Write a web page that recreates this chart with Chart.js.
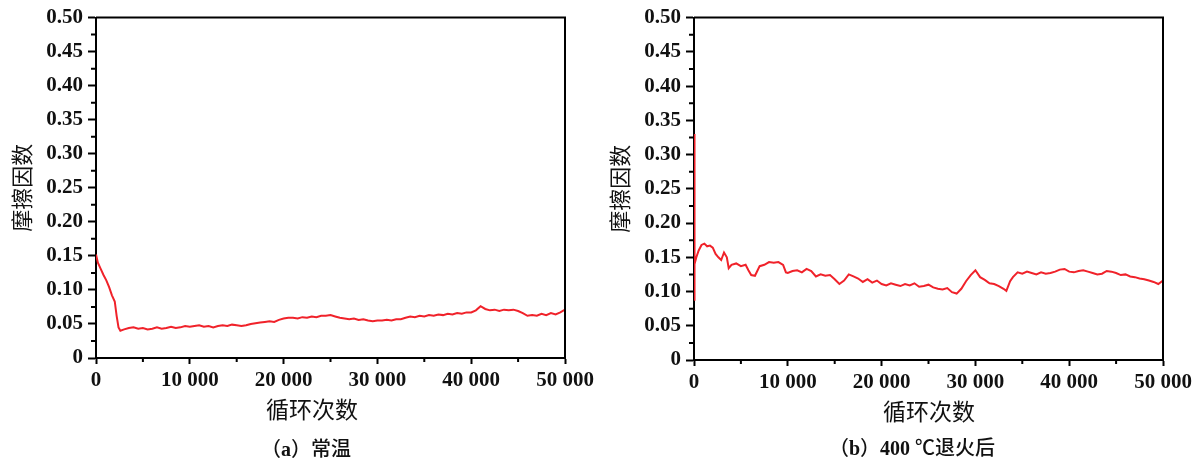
<!DOCTYPE html>
<html>
<head>
<meta charset="utf-8">
<script src="https://cdn.jsdelivr.net/npm/chart.js@4.4.1/dist/chart.umd.min.js"></script>
<style>
  body { margin: 0; background: #fff; }
  #wrap { position: relative; width: 1197px; height: 462px; overflow: hidden; }
  canvas { position: absolute; top: 0; }
  .lbl { position: absolute; white-space: nowrap; transform: translate(-50%, -50%); color: #111; }
  .xt { font: 23px "Noto Sans CJK SC"; }
  .cap { font: bold 20px "Liberation Serif", "Noto Sans CJK SC"; }
  .cap span { font-weight: 500; font-family: "Noto Sans CJK SC"; }
</style>
</head>
<body>
<div id="wrap">
  <canvas id="chartA" width="598" height="462" style="left:0"></canvas>
  <canvas id="chartB" width="599" height="462" style="left:598px"></canvas>
  <div class="lbl xt" style="left:312px; top:408px">循环次数</div>
  <div class="lbl xt" style="left:929px; top:410px">循环次数</div>
  <div class="lbl cap" style="left:306px; top:447px"><span>（</span>a<span>）常温</span></div>
  <div class="lbl cap" style="left:912px; top:446px"><span>（</span>b<span>）</span>400 <span>℃退火后</span></div>
</div>
<script>
// -------------------------
// Data
// -------------------------
const cyclesA = [0, 200, 500, 800, 1100, 1400, 1700, 2000, 2200, 2400, 2600, 3000, 3500,
  4000, 4500, 5000, 5500, 6000, 6500, 7000, 7500, 8000, 8500, 9000, 9500,
  10000, 10500, 11000, 11500, 12000, 12500, 13000, 13500, 14000, 14500,
  15000, 15500, 16000, 16500, 17000, 17500, 18000, 18500, 19000, 19500,
  20000, 20500, 21000, 21500, 22000, 22500, 23000, 23500, 24000, 24500,
  25000, 25500, 26000, 26500, 27000, 27500, 28000, 28500, 29000, 29500,
  30000, 30500, 31000, 31500, 32000, 32500, 33000, 33500, 34000, 34500,
  35000, 35500, 36000, 36500, 37000, 37500, 38000, 38500, 39000, 39500,
  40000, 40500, 41000, 41500, 42000, 42500, 43000, 43500, 44000, 44500,
  45000, 45500, 46000, 46500, 47000, 47500, 48000, 48500, 49000, 49500, 50000];
const frictionA = [0.152, 0.140, 0.131, 0.122, 0.114, 0.104, 0.092, 0.083, 0.062, 0.045, 0.040, 0.042, 0.044,
  0.045, 0.043, 0.044, 0.042, 0.043, 0.045, 0.043, 0.044, 0.046, 0.044, 0.045, 0.047,
  0.046, 0.047, 0.048, 0.046, 0.047, 0.045, 0.047, 0.048, 0.047, 0.049,
  0.048, 0.047, 0.048, 0.050, 0.051, 0.052, 0.053, 0.054, 0.053, 0.056,
  0.058, 0.059, 0.059, 0.058, 0.060, 0.059, 0.061, 0.060, 0.062, 0.062,
  0.063, 0.061, 0.059, 0.058, 0.057, 0.058, 0.056, 0.057, 0.055, 0.054,
  0.055, 0.055, 0.056, 0.055, 0.057, 0.057, 0.059, 0.061, 0.060, 0.062,
  0.061, 0.063, 0.062, 0.064, 0.063, 0.065, 0.064, 0.066, 0.065, 0.067,
  0.067, 0.070, 0.076, 0.072, 0.070, 0.071, 0.069, 0.071, 0.070, 0.071,
  0.069, 0.066, 0.062, 0.063, 0.062, 0.065, 0.063, 0.066, 0.064, 0.067, 0.071];

const cyclesB = [0, 30, 80, 250, 500, 800, 1100, 1400, 1700, 2000, 2300, 2600, 2900, 3200, 3500, 3700,
  4000, 4500, 5000, 5500, 5800, 6100, 6500, 7000, 7500, 8000, 8500, 9000, 9500, 9800,
  10000, 10500, 11000, 11500, 12000, 12500, 13000, 13500, 14000, 14500,
  15000, 15500, 16000, 16500, 17000, 17500, 18000, 18500, 19000, 19500,
  20000, 20500, 21000, 21500, 22000, 22500, 23000, 23500, 24000, 24500,
  25000, 25500, 26000, 26500, 27000, 27500, 28000, 28500, 29000, 29500,
  30000, 30500, 31000, 31500, 32000, 32500, 33000, 33300, 33700, 34000, 34500,
  35000, 35500, 36000, 36500, 37000, 37500, 38000, 38500, 39000, 39500,
  40000, 40500, 41000, 41500, 42000, 42500, 43000, 43500, 44000, 44500,
  45000, 45500, 46000, 46500, 47000, 47500, 48000, 48500, 49000, 49500, 50000];
const frictionB = [0.088, 0.330, 0.140, 0.150, 0.160, 0.168, 0.170, 0.166, 0.167, 0.164, 0.155, 0.150, 0.146, 0.157, 0.150, 0.134,
  0.139, 0.141, 0.137, 0.139, 0.131, 0.124, 0.123, 0.137, 0.139, 0.143, 0.142, 0.143, 0.139, 0.128,
  0.127, 0.130, 0.131, 0.128, 0.133, 0.130, 0.122, 0.125, 0.123, 0.124,
  0.118, 0.111, 0.116, 0.125, 0.122, 0.119, 0.114, 0.118, 0.113, 0.116,
  0.111, 0.109, 0.112, 0.110, 0.108, 0.111, 0.109, 0.112, 0.107, 0.108,
  0.110, 0.106, 0.104, 0.103, 0.105, 0.099, 0.097, 0.104, 0.115, 0.124,
  0.131, 0.121, 0.117, 0.112, 0.111, 0.108, 0.104, 0.101, 0.115, 0.121, 0.128,
  0.126, 0.129, 0.127, 0.125, 0.128, 0.126, 0.127, 0.129, 0.132, 0.133,
  0.129, 0.128, 0.130, 0.131, 0.129, 0.127, 0.125, 0.126, 0.130, 0.129,
  0.127, 0.124, 0.125, 0.122, 0.121, 0.119, 0.118, 0.116, 0.114, 0.111, 0.116];

// axis ticks
const majorX = [0, 10000, 20000, 30000, 40000, 50000];
const minorX = [5000, 15000, 25000, 35000, 45000];
const minorY = [0.025, 0.075, 0.125, 0.175, 0.225, 0.275, 0.325, 0.375, 0.425, 0.475];
const yTitle = "摩擦因数";

const RED = "#f0222a";
const TICK_FONT = { family: "Liberation Serif", size: 21, weight: "bold" };

// -------------------------
// Plugin: frame + minor ticks
// -------------------------
const frameAndMinor = {
  id: "frameAndMinor",
  afterDraw(chart) {
    const { ctx, chartArea: a, scales } = chart;
    ctx.save();
    ctx.strokeStyle = "#000";
    ctx.lineWidth = 2;
    ctx.beginPath();
    ctx.moveTo(a.left, a.top);
    ctx.lineTo(a.right, a.top);
    ctx.lineTo(a.right, a.bottom);
    ctx.stroke();
    ctx.beginPath();
    minorX.forEach(v => {
      const px = scales.x.getPixelForValue(v);
      ctx.moveTo(px, a.bottom);
      ctx.lineTo(px, a.bottom + 4);
    });
    minorY.forEach(v => {
      const py = scales.y.getPixelForValue(v);
      ctx.moveTo(a.left, py);
      ctx.lineTo(a.left - 5, py);
    });
    ctx.stroke();
    ctx.restore();
  }
};

function makeChart(id, xs, ys, box) {
  const pts = xs.map((x, i) => ({ x: x, y: ys[i] }));
  return new Chart(document.getElementById(id), {
    type: "line",
    data: {
      datasets: [{
        data: pts,
        borderColor: RED,
        borderWidth: 2,
        pointRadius: 0,
        tension: 0,
        fill: false
      }]
    },
    options: {
      responsive: false,
      animation: false,
      layout: { padding: { top: box.top, right: box.right, bottom: box.bottom, left: 0 } },
      plugins: { legend: { display: false }, tooltip: { enabled: false } },
      scales: {
        x: {
          type: "linear",
          min: 0,
          max: 50000,
          afterFit: s => { s.height = 40; },
          afterBuildTicks: s => { s.ticks = majorX.map(v => ({ value: v })); },
          ticks: {
            color: "#111",
            font: TICK_FONT,
            padding: 4,
            maxRotation: 0,
            callback: v => v === 0 ? "0" : String(v / 1000) + " 000"
          },
          grid: { drawOnChartArea: false, tickLength: 6, tickWidth: 2, tickColor: "#000" },
          border: { color: "#000", width: 2 }
        },
        y: {
          min: 0,
          max: 0.5,
          afterFit: s => { s.width = 96; },
          ticks: {
            stepSize: 0.05,
            color: "#111",
            font: TICK_FONT,
            padding: 5,
            callback: v => v === 0 ? "0" : v.toFixed(2)
          },
          title: {
            display: true,
            text: yTitle,
            color: "#111",
            font: { family: "Noto Sans CJK SC", size: 22 },
            padding: { top: 8, bottom: 0 }
          },
          grid: { drawOnChartArea: false, tickLength: 8, tickWidth: 2, tickColor: "#000" },
          border: { color: "#000", width: 2 }
        }
      }
    },
    plugins: [frameAndMinor]
  });
}

makeChart("chartA", cyclesA, frictionA, { top: 15, right: 33, bottom: 64 });
makeChart("chartB", cyclesB, frictionB, { top: 16, right: 34, bottom: 62 });
</script>
</body>
</html>
